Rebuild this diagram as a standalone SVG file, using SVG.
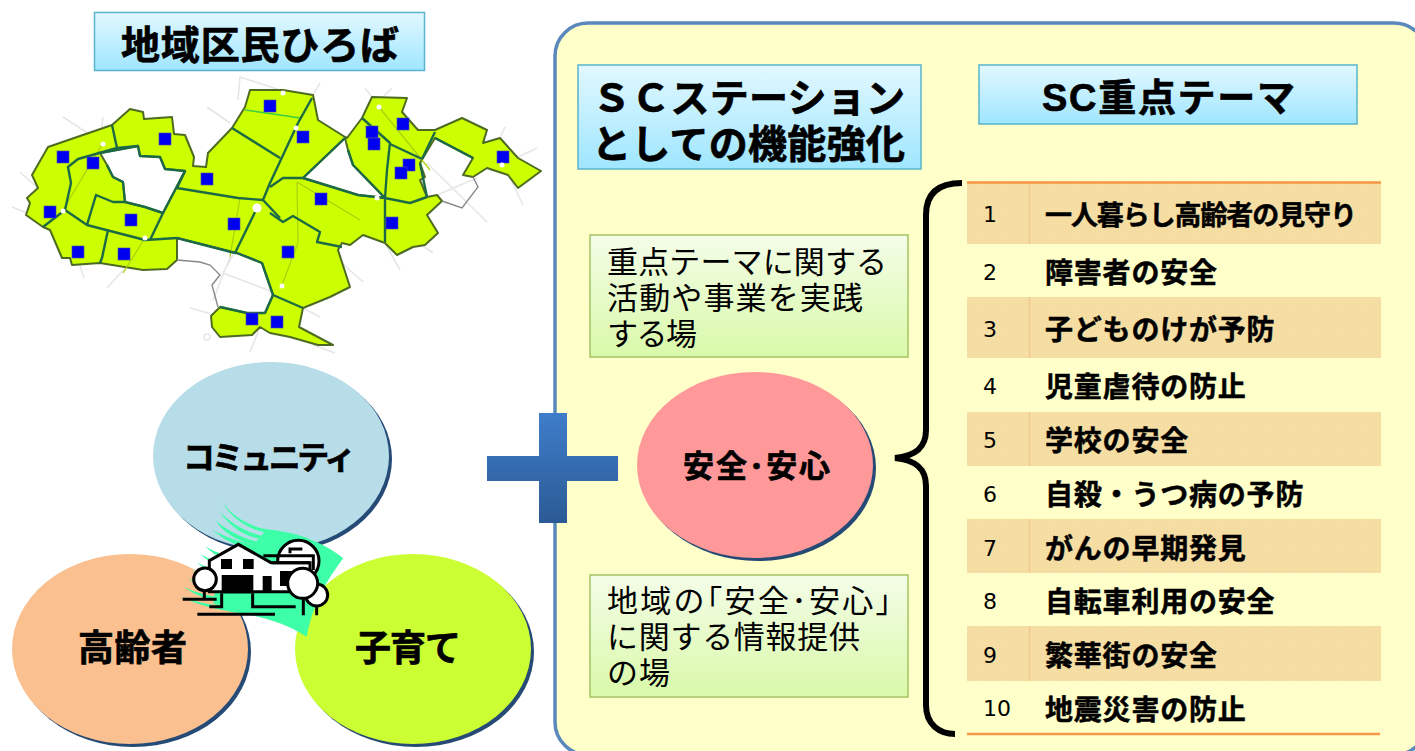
<svg xmlns="http://www.w3.org/2000/svg" width="1415" height="751" viewBox="0 0 1415 751">
<style>
text{font-family:"Liberation Sans","Noto Sans CJK JP",sans-serif;fill:#000}
.ttl{font-size:39px;font-weight:700;stroke:#000;stroke-width:.7px}
.bub{font-size:32px;font-weight:700;stroke:#000;stroke-width:.7px}
.body{font-size:31px}
.num{font-family:"DejaVu Sans",sans-serif;font-size:22px;text-anchor:middle}
.lbl{font-size:28px;font-weight:700;letter-spacing:.8px;stroke:#000;stroke-width:.5px}
.band{fill:url(#tex)}
.div{stroke:#f2c88a;stroke-width:1.500}
.rule{stroke:#f79646;stroke-width:2.500}
.blue{fill:#0000f0;stroke:#4a4ab0;stroke-width:.6}
.dot{fill:#fff}
.road{fill:none;stroke:#e6e6e6;stroke-width:1.600}
.road2{fill:none;stroke:#a8d010;stroke-width:1.200}
.ward{fill:none;stroke:#1e6b45;stroke-width:2.400;stroke-linejoin:round}
.gout{fill:none;stroke:#888;stroke-width:1.400}
.sh{fill:#254a75}
.hs{stroke:#000;stroke-width:9;fill:none}
.hw{fill:#fff;stroke:#000;stroke-width:9}
.hb{fill:#000}
</style>
<defs>
<linearGradient id="gBlue" x1="0" y1="0" x2="0" y2="1"><stop offset="0" stop-color="#e2f8ff"/><stop offset="1" stop-color="#9fe6ff"/></linearGradient>
<linearGradient id="gGreen" x1="0" y1="0" x2="0" y2="1"><stop offset="0" stop-color="#f4fde8"/><stop offset="1" stop-color="#d9f9a9"/></linearGradient>
<linearGradient id="gPlus" gradientUnits="userSpaceOnUse" x1="0" y1="413" x2="0" y2="523"><stop offset="0" stop-color="#3f7dca"/><stop offset="1" stop-color="#2a5a94"/></linearGradient>
<pattern id="tex" width="3" height="3" patternUnits="userSpaceOnUse"><rect width="3" height="3" fill="#f6dfa6"/><path d="M0 0H3M0 0V3" stroke="#f4d99b" stroke-width="1"/></pattern>
<filter id="soft" x="-5%" y="-5%" width="110%" height="110%"><feGaussianBlur stdDeviation=".55"/></filter>
</defs>

<rect width="1415" height="751" fill="#fff"/>

<g id="title-hiroba">
<rect x="94.500" y="12.500" width="330" height="58" fill="url(#gBlue)" stroke="#5ab4cc" stroke-width="1.500"/>
<text class="ttl" x="121" y="59" textLength="278" lengthAdjust="spacing" style="font-size:39px">地域区民ひろば</text>
</g>

<g id="map" filter="url(#soft)">
<g class="road">
<path d="M63 117L103 143M103 117L102 127M20 172L63 211M12 207L27 213M207 107L230 123M240 77L238 100M240 77L280 90M125 268L107 288M320 83L313 95M365 88L372 97M392 88L383 97M505 127L500 138M537 148L518 157M523 205L510 178M487 222L427 163M437 195L477 178M400 270L385 243M433 253L410 237M363 282L342 263M320 317L303 308M335 353L313 345M230 257L213 300M190 308L260 327M223 273L273 292M233 255L223 273M260 327L250 352M63 211L84 278"/>
<circle cx="207" cy="337" r="3"/>
</g>
<path d="M130 109L143 112 144 119 172 117 174 134 185 135 194 157 193 166 206 167 208 153 232 128 245 107 250 90 283 90 313 95 318 120 345 137 347 138 362 118 372 97 407 98 402 112 418 130 435 130 462 118 487 130 483 143 500 138 518 158 541 171 518 188 508 175 487 168 473 177 463 175 473 158 435 138 420 163 425 177 420 180 427 197 437 195 442 201 427 215 438 233 425 245 413 247 397 255 385 243 363 235 350 245 342 243 338 250 350 287 330 297 303 308 299 327 333 345 318 345 290 337 270 333 260 327 252 335 220 337 212 327 211 316 220 307 247 313 265 313 273 295 262 263 237 253 177 238 177 260 167 269 143 270 100 263 72 265 70 258 62 258 50 230 43 227 26 215 30 203 27 198 38 188 32 175 48 147 112 125Z M100 153L138 146 140 156 160 157 165 169 185 171 163 213 145 207 125 202 123 182 113 177 107 165Z M345 138L303 178 358 195 385 198 353 165 348 150Z" fill="#ccff00" fill-rule="evenodd" stroke="#4e6b22" stroke-width="2" stroke-linejoin="round"/>
<path class="road2" d="M297 182L298 243 282 285M297 182L360 220M63 210L103 143M379 107L430 170M145 238L123 273M240 198L230 257"/>
<path d="M245 110L280 115 300 118" fill="none" stroke="#3ccf3c" stroke-width="1.500"/>
<path class="gout" d="M177 260L200 262 210 265 220 275 212 285 218 307M442 201L462 208 478 187 473 177"/>
<g class="ward">
<path d="M112 125L117 148M138 146L117 148 78 159 68 167 71 183 65 210 43 227M65 210L87 225 145 240 177 238M87 225L96 195 113 202 125 202M108 230L102 258 100 263M163 213L150 240"/>
<path d="M100 153L138 146 140 156 160 157 165 169 185 171 163 213 145 207 125 202 123 182 113 177 107 165"/>
<path d="M185 171L177 188 238 198 263 200 280 218M257 208L235 253M177 238L235 253 237 253 262 263 273 295 303 308M232 128L280 158M312 98L298 123 270 183 263 200"/>
<path d="M345 138L303 178 283 178 270 187M270 213L283 222 293 216 320 232 317 242 342 247"/>
<path d="M303 178L358 195 385 198 385 242M385 198L410 203 427 197 420 163M362 118L390 143 387 170 385 198M390 144L422 159M435 132L422 159M348 150L353 165 385 198M435 138L473 158"/>
<path d="M273 295L265 313M220 307L247 313 265 313"/>
</g>
<g class="blue">
<rect x="264" y="100" width="12" height="12"/><rect x="159" y="133" width="12" height="12"/><rect x="57" y="151" width="12" height="12"/><rect x="87" y="157" width="12" height="12"/><rect x="201" y="173" width="12" height="12"/><rect x="44" y="206" width="12" height="12"/><rect x="125" y="214" width="12" height="12"/><rect x="228" y="218" width="12" height="12"/><rect x="72" y="246" width="12" height="12"/><rect x="118" y="248" width="12" height="12"/><rect x="297" y="131" width="12" height="12"/><rect x="366" y="126" width="12" height="12"/><rect x="368" y="138" width="12" height="12"/><rect x="397" y="118" width="12" height="12"/><rect x="403" y="159" width="12" height="12"/><rect x="395" y="167" width="12" height="12"/><rect x="497" y="151" width="12" height="12"/><rect x="315" y="193" width="12" height="12"/><rect x="386" y="217" width="12" height="12"/><rect x="282" y="246" width="12" height="12"/><rect x="271" y="316" width="12" height="12"/><rect x="246" y="313" width="12" height="12"/>
</g>
<g class="dot">
<circle cx="103" cy="144" r="2.500"/><circle cx="63" cy="211" r="2.500"/><circle cx="145" cy="238" r="2.500"/><circle cx="257" cy="208" r="4.500"/><circle cx="283" cy="93" r="2.500"/><circle cx="296" cy="128" r="2.500"/><circle cx="379" cy="107" r="2.500"/><circle cx="502" cy="165" r="2.500"/><circle cx="377" cy="198" r="2.500"/><circle cx="282" cy="286" r="2.500"/>
</g>
</g>

<g id="node-community">
<ellipse class="sh" cx="274" cy="459" rx="118" ry="94"/>
<ellipse cx="271" cy="456" rx="118" ry="94" fill="#b7dde8"/>
<text class="bub" x="183" y="469" textLength="173" lengthAdjust="spacing">コミュニティ</text>
</g>
<g id="node-elderly">
<ellipse class="sh" cx="133" cy="652" rx="118" ry="95"/>
<ellipse cx="130" cy="649" rx="118" ry="95" fill="#fac090"/>
<text class="bub" x="78" y="661" textLength="109" lengthAdjust="spacing" style="font-size:36px">高齢者</text>
</g>
<g id="node-childcare">
<ellipse class="sh" cx="416" cy="652" rx="118" ry="95"/>
<ellipse cx="413" cy="649" rx="118" ry="95" fill="#ccff33"/>
<text class="bub" x="355" y="661" textLength="106" lengthAdjust="spacing" style="font-size:36px">子育て</text>
</g>

<g id="house" transform="translate(170 490) scale(.33333)">
<g fill="#3dffa8">
<path d="M290 118C370 125 450 150 520 205 470 270 430 340 410 440 340 395 260 375 180 365L130 340 150 190 250 165Z"/>
<path d="M155 35C190 80 235 108 290 118V128C235 118 190 90 155 35Z"/>
<path d="M148 65C185 100 225 125 275 137V148C225 138 185 115 148 65Z"/>
<path d="M135 90C170 120 215 145 270 157V168C215 158 170 140 135 90Z"/>
<path d="M125 118C160 140 205 155 255 165V180C205 172 160 150 125 118Z"/>
<path d="M105 168Q130 185 160 192V205Q130 195 105 168Z"/>
<path d="M92 193Q120 210 150 217V230Q120 220 92 193Z"/>
<path d="M80 217Q110 235 150 242V255Q110 245 80 217Z"/>
<path d="M65 240Q100 260 150 268V281Q100 272 65 240Z"/>
<path d="M53 265Q95 288 150 296V309Q95 300 53 265Z"/>
<path d="M40 290Q90 315 170 325V338Q95 330 40 290Z"/>
<path d="M25 315Q90 345 190 350V366Q90 352 25 315Z"/>
</g>
<circle class="hw" cx="385" cy="213" r="62"/>
<path class="hs" d="M360 190V177H397"/>
<path class="hw" d="M118 305V212L205 163 303 218H420V305Z"/>
<path class="hs" d="M280 197H430V240M305 218H420"/>
<rect class="hb" x="153" y="207" width="33" height="30"/><rect class="hb" x="219" y="207" width="32" height="30"/>
<rect class="hb" x="155" y="255" width="95" height="55"/><rect class="hb" x="278" y="258" width="27" height="50"/><rect class="hb" x="330" y="243" width="40" height="45"/>
<path class="hs" d="M103 302V328M38 328H140M155 310V350H118M248 310V350H377M82 373H315M400 325V376M440 348V376"/>
<circle class="hw" cx="440" cy="315" r="33"/>
<circle class="hw" cx="105" cy="268" r="34"/>
<circle class="hw" cx="398" cy="280" r="45"/>
</g>

<g id="panel">
<rect x="555" y="23" width="872" height="732" rx="33" fill="#ffffc9" stroke="#5a88bd" stroke-width="3.500"/>
</g>

<g id="plus">
<rect x="487" y="456" width="131" height="25" fill="url(#gPlus)"/>
<rect x="539" y="413" width="28" height="110" fill="url(#gPlus)"/>
</g>

<g id="title-station">
<rect x="578" y="65" width="343" height="104" fill="url(#gBlue)" stroke="#5ab4cc" stroke-width="1.500"/>
<text class="ttl" x="592" y="112" textLength="313" lengthAdjust="spacing">ＳＣステーション</text>
<text class="ttl" x="592" y="158" textLength="313" lengthAdjust="spacing">としての機能強化</text>
</g>

<g id="title-themes">
<rect x="979" y="65" width="378" height="59" fill="url(#gBlue)" stroke="#5ab4cc" stroke-width="1.500"/>
<text class="ttl" x="1042" y="111" textLength="253" lengthAdjust="spacing" style="font-size:38px">SC重点テーマ</text>
</g>

<g id="box-practice">
<rect x="590" y="235" width="318" height="122" fill="url(#gGreen)" stroke="#a4c464" stroke-width="1.500"/>
<text class="body" x="607" y="273" textLength="280" lengthAdjust="spacing">重点テーマに関する</text>
<text class="body" x="607" y="309" textLength="256" lengthAdjust="spacing">活動や事業を実践</text>
<text class="body" x="607" y="345" textLength="90" lengthAdjust="spacing">する場</text>
</g>

<g id="node-safety">
<ellipse class="sh" cx="758" cy="468" rx="118" ry="93"/>
<ellipse cx="755" cy="465" rx="118" ry="93" fill="#ff9999"/>
<text class="bub" x="683" y="477" textLength="147" lengthAdjust="spacing" style="font-size:31px">安全･安心</text>
</g>

<g id="box-info">
<rect x="590" y="575" width="318" height="122" fill="url(#gGreen)" stroke="#a4c464" stroke-width="1.500"/>
<text class="body" x="607" y="612" textLength="284" lengthAdjust="spacing">地域の｢安全･安心｣</text>
<text class="body" x="607" y="648" textLength="253" lengthAdjust="spacing">に関する情報提供</text>
<text class="body" x="607" y="684" textLength="63" lengthAdjust="spacing">の場</text>
</g>

<g id="connectors">
<path d="M962 183C940 183 926 192 926 215V430C926 448 915 456 895 458 915 460 926 468 926 486V705C926 725 940 734 955 734" fill="none" stroke="#000" stroke-width="6"/>
</g>

<g id="theme-table">
<rect class="band" x="967" y="183" width="414" height="61"/>
<rect class="band" x="967" y="297" width="414" height="61"/>
<rect class="band" x="967" y="412" width="414" height="54"/>
<rect class="band" x="967" y="519" width="414" height="54"/>
<rect class="band" x="967" y="626" width="414" height="55"/>
<path class="div" d="M1029.500 183V244M1029.500 297V358M1029.500 412V466M1029.500 519V573M1029.500 626V681"/>
<path class="rule" d="M967 182.500H1381M967 734H1380"/>
<g id="theme-1"><text class="num" x="990" y="222">1</text><text class="lbl" x="1045" y="225" textLength="312" lengthAdjust="spacing" style="font-size:27px;letter-spacing:0">一人暮らし高齢者の見守り</text></g>
<g id="theme-2"><text class="num" x="990" y="280">2</text><text class="lbl" x="1045" y="283">障害者の安全</text></g>
<g id="theme-3"><text class="num" x="990" y="337">3</text><text class="lbl" x="1045" y="340">子どものけが予防</text></g>
<g id="theme-4"><text class="num" x="990" y="394">4</text><text class="lbl" x="1045" y="397">児童虐待の防止</text></g>
<g id="theme-5"><text class="num" x="990" y="448">5</text><text class="lbl" x="1045" y="451">学校の安全</text></g>
<g id="theme-6"><text class="num" x="990" y="502">6</text><text class="lbl" x="1045" y="505">自殺・うつ病の予防</text></g>
<g id="theme-7"><text class="num" x="990" y="556">7</text><text class="lbl" x="1045" y="559">がんの早期発見</text></g>
<g id="theme-8"><text class="num" x="990" y="609">8</text><text class="lbl" x="1045" y="612">自転車利用の安全</text></g>
<g id="theme-9"><text class="num" x="990" y="663">9</text><text class="lbl" x="1045" y="666">繁華街の安全</text></g>
<g id="theme-10"><text class="num" x="997" y="716">10</text><text class="lbl" x="1045" y="720">地震災害の防止</text></g>
</g>
</svg>
